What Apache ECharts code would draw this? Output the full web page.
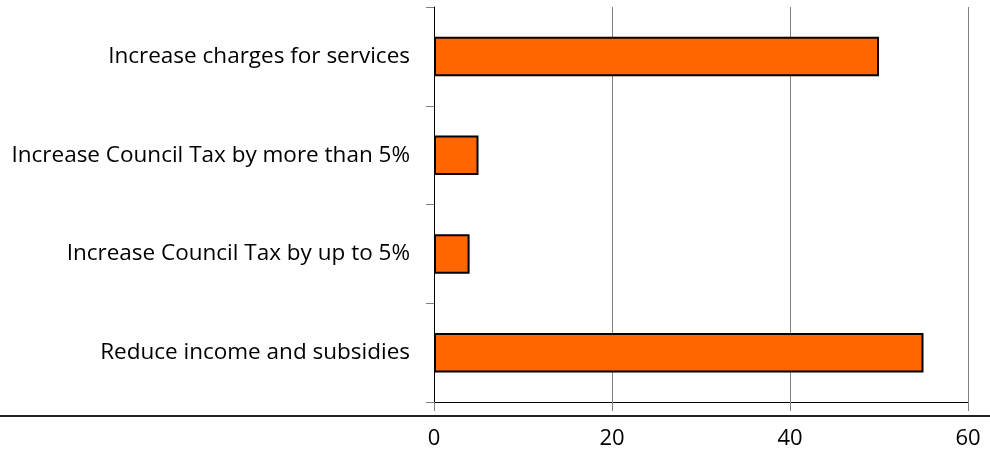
<!DOCTYPE html>
<html>
<head>
<meta charset="utf-8">
<script src="https://cdn.jsdelivr.net/npm/echarts@6/dist/echarts.min.js"></script>
<style>
  html, body { margin: 0; padding: 0; background: #fff; }
  #chart { width: 990px; height: 454px; }
</style>
</head>
<body>
<div id="chart"></div>
<script>
// bottom to top, as echarts stacks categories
const categories = [
  "Reduce income and subsidies",
  "Increase Council Tax by up to 5%",
  "Increase Council Tax by more than 5%",
  "Increase charges for services",
];
const values = [55, 4, 5, 50];
const xTicks = { min: 0, max: 60, interval: 20 };

const chart = echarts.init(document.getElementById("chart"));

const chartOptions = {
  animation: false,
  textStyle: { fontFamily: "Open Sans" },
  grid: {
    left: 434,
    right: 22,
    top: 7,
    bottom: 52,
  },
  xAxis: {
    type: "value",
    min: xTicks.min,
    max: xTicks.max,
    interval: xTicks.interval,
    axisLine: {
      show: true,
      lineStyle: { color: "#000", width: 1 },
    },
    axisTick: {
      show: true,
      length: 9,
      lineStyle: { color: "#808080" },
    },
    axisLabel: {
      color: "#000",
      fontSize: 22,
      margin: 26,
    },
    splitLine: {
      show: true,
      lineStyle: { color: "#808080", width: 1 },
    },
  },
  yAxis: {
    type: "category",
    data: categories,
    axisLine: {
      show: true,
      lineStyle: { color: "#000", width: 1 },
    },
    axisTick: {
      show: true,
      length: 8,
      lineStyle: { color: "#808080" },
    },
    axisLabel: {
      color: "#000",
      fontSize: 22.5,
      margin: 24,
      padding: [4, 0, 0, 0],
    },
  },
  graphic: [
    {
      type: "line",
      shape: { x1: 0, y1: 416, x2: 990, y2: 416 },
      style: { stroke: "#222", lineWidth: 2 },
    },
  ],
  series: [
    {
      type: "bar",
      data: values,
      barWidth: "40%",
      itemStyle: {
        color: "#FF6600",
        borderColor: "#000",
        borderWidth: 2,
      },
    },
  ],
};

chart.setOption(chartOptions);
</script>
</body>
</html>
